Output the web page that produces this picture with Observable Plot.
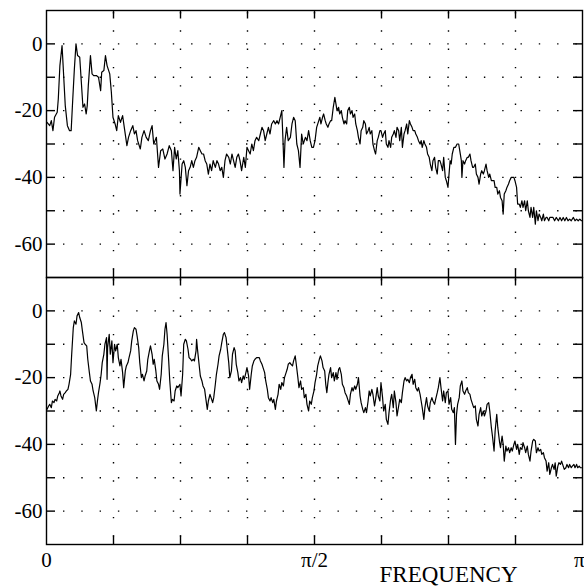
<!DOCTYPE html>
<html>
<head>
<meta charset="utf-8">
<script src="https://cdn.jsdelivr.net/npm/d3@7"></script>
<script src="https://cdn.jsdelivr.net/npm/@observablehq/plot@0.6"></script>
<style>
  html, body { margin: 0; padding: 0; background: #fff; }
  #chart { width: 584px; height: 588px; overflow: hidden; }
</style>
</head>
<body>
<div id="chart"></div>
<script>
// Frequency in units of pi (0 .. 1), magnitude in dB
const topSpectrum = [
[0.001,-23.5],[0.006,-24.5],[0.009,-23],[0.012,-26],[0.015,-22],[0.020,-20.5],[0.022,-16.5],[0.025,-6.5],[0.029,-0.5],[0.032,-9.5],[0.035,-18.5],[0.039,-24.5],[0.043,-26],[0.046,-26],[0.049,-16.5],[0.052,-7.5],[0.055,0],[0.058,-3.5],[0.062,-4],[0.065,-11.5],[0.068,-19],[0.071,-18],[0.074,-21],[0.076,-18.5],[0.078,-12.5],[0.082,-3.5],[0.085,-9],[0.088,-9.5],[0.093,-9.5],[0.097,-10],[0.101,-14],[0.103,-8.5],[0.107,-8],[0.110,-3.5],[0.113,-6.5],[0.118,-9],[0.121,-14.5],[0.124,-22],[0.128,-24],[0.131,-26],[0.134,-21.5],[0.138,-23.5],[0.142,-21.5],[0.146,-26],[0.150,-30.5],[0.153,-28],[0.157,-26],[0.161,-24.5],[0.164,-27],[0.167,-26],[0.170,-29],[0.175,-31.5],[0.178,-28],[0.182,-26],[0.186,-28],[0.190,-29],[0.194,-26],[0.197,-24.5],[0.200,-30],[0.205,-28],[0.209,-37],[0.213,-32],[0.217,-31.5],[0.221,-34.5],[0.225,-33],[0.229,-30.5],[0.233,-32],[0.236,-38],[0.239,-31],[0.242,-34.5],[0.245,-32],[0.248,-38],[0.249,-45],
[0.253,-36],[0.256,-35],[0.259,-37],[0.262,-42.5],[0.265,-38],[0.268,-37],[0.271,-35],[0.274,-37],[0.277,-35],[0.280,-34],[0.284,-31],[0.287,-32],[0.290,-33],[0.293,-33],[0.296,-35],[0.299,-36],[0.302,-39],[0.305,-36],[0.308,-38],[0.311,-35],[0.315,-37],[0.318,-35],[0.321,-36],[0.324,-38],[0.327,-37],[0.330,-40],[0.333,-35],[0.336,-33],[0.340,-34],[0.343,-36],[0.346,-33],[0.349,-35],[0.352,-37],[0.355,-34],[0.358,-33],[0.361,-35],[0.364,-38],[0.368,-34],[0.371,-37],[0.374,-31],[0.377,-32],[0.380,-33],[0.383,-30],[0.386,-32],[0.389,-29],[0.392,-28],[0.396,-29],[0.399,-27],[0.402,-25],[0.405,-26],[0.408,-29],[0.411,-27],[0.414,-25],[0.417,-27],[0.420,-24],[0.424,-23],[0.427,-24],[0.430,-23],[0.433,-24],[0.436,-22],[0.439,-20],[0.441,-28],[0.443,-37],[0.445,-29],[0.448,-25],[0.451,-29],[0.455,-28],[0.458,-24],[0.461,-22],[0.464,-23],[0.467,-30],[0.470,-32],[0.473,-37],[0.476,-27],[0.479,-30],[0.483,-28],[0.486,-29],[0.489,-26],[0.492,-29],[0.495,-31],[0.498,-31],[0.501,-29],
[0.504,-25],[0.508,-23],[0.510,-22],[0.512,-24],[0.515,-22],[0.517,-21],[0.520,-23],[0.522,-24],[0.525,-25],[0.527,-24],[0.530,-23],[0.532,-23],[0.535,-19],[0.538,-16],[0.540,-18],[0.542,-20],[0.545,-19],[0.547,-21],[0.550,-20],[0.552,-22],[0.555,-24],[0.557,-23],[0.560,-24],[0.562,-20],[0.565,-19],[0.567,-21],[0.570,-20],[0.572,-22],[0.575,-21],[0.577,-24],[0.580,-26],[0.582,-28],[0.585,-30],[0.587,-26],[0.590,-25],[0.592,-23],[0.595,-24],[0.597,-27],[0.600,-26],[0.602,-25],[0.604,-27],[0.607,-26],[0.609,-30],[0.612,-32],[0.614,-33],[0.617,-29],[0.619,-28],[0.622,-26],[0.624,-26],[0.627,-28],[0.629,-27],[0.632,-26],[0.634,-30],[0.637,-31],[0.639,-29],[0.642,-31],[0.644,-28],[0.647,-27],[0.649,-26],[0.652,-28],[0.654,-25],[0.657,-26],[0.659,-29],[0.662,-25],[0.664,-31],[0.667,-27],[0.669,-26],[0.672,-24],[0.674,-27],[0.677,-23],[0.679,-24],[0.682,-25],[0.684,-26],[0.687,-26],[0.689,-27],[0.692,-28],[0.694,-29],[0.697,-30],[0.699,-29],[0.701,-31],[0.704,-29],[0.706,-30],[0.709,-31],[0.711,-33],[0.714,-34],[0.716,-36],[0.719,-38],[0.721,-35],[0.724,-34],[0.726,-37],[0.729,-39],[0.731,-35],[0.734,-35],[0.736,-36],[0.739,-38],[0.741,-34],[0.744,-40],[0.746,-41],[0.749,-43],
[0.753,-35],[0.755,-36],[0.757,-33],[0.760,-31],[0.763,-31],[0.766,-30],[0.769,-30],[0.771,-32],[0.774,-35],[0.775,-40],[0.777,-35],[0.780,-36],[0.782,-35],[0.785,-34],[0.787,-34],[0.790,-33],[0.792,-35],[0.795,-37],[0.797,-37],[0.800,-36],[0.802,-39],[0.805,-40],[0.807,-42],[0.810,-39],[0.812,-38],[0.815,-39],[0.817,-38],[0.820,-36],[0.822,-38],[0.825,-40],[0.827,-39],[0.830,-41],[0.832,-41],[0.835,-41],[0.837,-43],[0.840,-43],[0.842,-45],[0.845,-44],[0.847,-46],[0.850,-47],[0.852,-51],[0.854,-45],[0.857,-44],[0.859,-43],[0.862,-42],[0.864,-41],[0.867,-40],[0.869,-40],[0.872,-40],[0.874,-41],[0.877,-43],[0.879,-48],[0.882,-48],[0.884,-49],[0.887,-47],[0.889,-49],[0.892,-47],[0.894,-50],[0.897,-47],[0.899,-50],[0.902,-52],[0.904,-49],[0.907,-52],[0.909,-49],[0.912,-54],[0.914,-50],[0.917,-53],[0.919,-51],[0.922,-52],[0.924,-53],[0.927,-51],[0.929,-53],[0.932,-52],[0.934,-52],[0.937,-53],[0.939,-52],[0.942,-52],[0.945,-52],[0.948,-53],[0.951,-52],[0.955,-53],[0.958,-52],[0.961,-53],[0.964,-52],[0.967,-53],[0.970,-52],[0.973,-53],[0.976,-52.5],[0.979,-53],[0.983,-52],[0.986,-53],[0.989,-52.5],[0.992,-53],[0.995,-52.5],[0.998,-53],[1.000,-53]
];

const bottomSpectrum = [
[0.001,-29.5],[0.004,-28.5],[0.006,-28],[0.009,-29],[0.011,-27],[0.014,-27.5],[0.016,-26.5],[0.019,-27],[0.021,-25.5],[0.024,-24.5],[0.025,-24],[0.027,-25.5],[0.030,-26.5],[0.032,-25],[0.035,-24.5],[0.037,-24],[0.040,-23.5],[0.042,-22],[0.045,-19],[0.047,-13],[0.050,-5],[0.052,-3],[0.055,-4],[0.057,-1.5],[0.060,-0.5],[0.062,-2],[0.065,-3.5],[0.067,-6],[0.070,-9.5],[0.072,-10],[0.075,-10.5],[0.077,-14.5],[0.080,-18.5],[0.082,-21],[0.085,-22],[0.087,-24],[0.090,-26],[0.093,-30],[0.095,-27],[0.097,-24.5],[0.100,-21.5],[0.102,-19],[0.104,-15.5],[0.107,-13],[0.109,-10],[0.112,-8],[0.113,-20.5],[0.114,-11],[0.117,-7],[0.119,-13],[0.122,-9],[0.124,-15.5],[0.127,-10],[0.129,-12],[0.132,-10],[0.134,-14],[0.137,-16.5],[0.139,-14.5],[0.142,-18.5],[0.144,-23],[0.147,-18],[0.149,-16.5],[0.152,-15.5],[0.154,-14],[0.157,-12],[0.159,-9],[0.162,-6],[0.164,-5],[0.167,-5.5],[0.169,-7.5],[0.172,-11],[0.174,-15.5],[0.177,-20],[0.179,-19],[0.182,-21],[0.184,-19.5],[0.187,-18],[0.189,-14.5],[0.192,-12],[0.194,-10.5],[0.197,-13],[0.199,-16],[0.201,-14.5],[0.204,-18],[0.206,-21],[0.209,-22],[0.211,-23.5],[0.214,-19],[0.216,-13.5],[0.219,-10],[0.221,-5.5],[0.223,-3.5],[0.225,-7],[0.228,-15],[0.230,-21],[0.233,-27.5],[0.235,-26.5],[0.238,-27],[0.240,-24],[0.243,-22.5],[0.245,-23],
[0.249,-22],[0.251,-25.5],[0.254,-19],[0.256,-10],[0.259,-8.5],[0.261,-9],[0.264,-11.5],[0.266,-14],[0.269,-14.5],[0.271,-15],[0.274,-14.5],[0.276,-15],[0.279,-12],[0.280,-8.5],[0.282,-12],[0.285,-16.5],[0.287,-19.5],[0.290,-21],[0.292,-22.5],[0.295,-23.5],[0.297,-26],[0.300,-29.5],[0.302,-27],[0.305,-25],[0.307,-26],[0.310,-27.5],[0.312,-26],[0.315,-22],[0.317,-19],[0.320,-16],[0.322,-13.5],[0.325,-11.5],[0.327,-9.5],[0.330,-7],[0.332,-6.5],[0.335,-8],[0.337,-11],[0.340,-15.5],[0.342,-20],[0.345,-18],[0.347,-13],[0.350,-11],[0.352,-12],[0.354,-16],[0.357,-18.5],[0.359,-21],[0.362,-20],[0.364,-21.5],[0.367,-19.5],[0.369,-20.5],[0.372,-18.5],[0.374,-17],[0.377,-19.5],[0.379,-23.5],[0.382,-19],[0.384,-16.5],[0.387,-15],[0.389,-14.5],[0.392,-14],[0.394,-14],[0.397,-14],[0.399,-15],[0.402,-16],[0.404,-17],[0.407,-18.5],[0.409,-21],[0.412,-23.5],[0.414,-26],[0.417,-27],[0.419,-26],[0.422,-27.5],[0.424,-26.5],[0.427,-29.5],[0.429,-27],[0.432,-25],[0.434,-22],[0.437,-23.5],[0.439,-21.5],[0.442,-22.5],[0.444,-20],[0.447,-18.5],[0.449,-17.5],[0.451,-16],[0.454,-15.5],[0.456,-16],[0.459,-16.5],[0.461,-15],[0.464,-13.5],[0.466,-16],[0.469,-20],[0.471,-23],[0.474,-21],[0.476,-23.5],[0.479,-23],[0.481,-26],[0.484,-25],[0.486,-28],[0.489,-30],[0.491,-27],[0.494,-28],[0.496,-26],
[0.499,-24],[0.501,-21.5],[0.504,-19],[0.506,-16.5],[0.509,-14.5],[0.511,-13.5],[0.514,-15],[0.516,-17],[0.519,-18],[0.521,-22],[0.523,-24.5],[0.525,-21.5],[0.527,-19],[0.530,-17],[0.532,-20],[0.535,-18.5],[0.537,-21],[0.540,-18.5],[0.542,-20.5],[0.545,-17.5],[0.547,-17],[0.550,-19],[0.552,-22],[0.555,-23],[0.557,-24.5],[0.560,-25.5],[0.562,-26.5],[0.565,-28],[0.567,-25],[0.570,-23],[0.572,-24],[0.575,-22.5],[0.577,-23.5],[0.580,-22],[0.582,-20],[0.585,-25.5],[0.587,-27.5],[0.590,-29.5],[0.592,-30.5],[0.595,-29],[0.597,-30.5],[0.600,-27],[0.602,-24],[0.604,-25.5],[0.607,-23.5],[0.609,-25],[0.612,-28.5],[0.614,-26.5],[0.617,-23],[0.619,-25.5],[0.622,-27],[0.624,-21.5],[0.627,-26],[0.629,-30],[0.632,-28],[0.634,-32.5],[0.637,-34],[0.639,-30.5],[0.642,-26.5],[0.644,-25],[0.647,-29],[0.649,-24],[0.652,-27.5],[0.654,-31.5],[0.657,-28.5],[0.659,-26.5],[0.662,-27.5],[0.664,-24.5],[0.667,-21],[0.669,-20],[0.672,-21],[0.674,-20.5],[0.677,-21.5],[0.679,-20],[0.682,-19],[0.684,-22],[0.687,-20.5],[0.689,-23],[0.692,-24],[0.694,-23],[0.697,-25],[0.699,-27],[0.701,-29],[0.704,-32.5],[0.706,-29],[0.709,-26],[0.711,-28.5],[0.714,-30],[0.716,-27.5],[0.719,-26],[0.721,-27],[0.724,-28],[0.726,-26.5],[0.729,-24.5],[0.731,-23],[0.734,-20],[0.736,-23],[0.739,-27],[0.741,-24],[0.744,-27.5],[0.746,-24.5],
[0.749,-24],[0.751,-28],[0.754,-26],[0.756,-29.5],[0.759,-30.5],[0.761,-29],[0.763,-40],[0.765,-31],[0.767,-28],[0.770,-26],[0.772,-22.5],[0.775,-21],[0.777,-24],[0.780,-25],[0.782,-24],[0.785,-23],[0.787,-24.5],[0.790,-25],[0.792,-26.5],[0.795,-28],[0.797,-29],[0.800,-28.5],[0.802,-32.5],[0.805,-34.5],[0.807,-31],[0.810,-29],[0.812,-31.5],[0.815,-30],[0.817,-31.5],[0.820,-30],[0.822,-28],[0.825,-27.5],[0.827,-30],[0.830,-35],[0.832,-37.5],[0.835,-42],[0.837,-36],[0.840,-31],[0.842,-35],[0.845,-39],[0.847,-41],[0.850,-37.5],[0.852,-40],[0.854,-45],[0.857,-40.5],[0.859,-42],[0.862,-41],[0.864,-42.5],[0.867,-41],[0.869,-42],[0.872,-40],[0.874,-39],[0.877,-41.5],[0.879,-40],[0.882,-43],[0.884,-41],[0.887,-41.5],[0.889,-39.5],[0.892,-41],[0.894,-42.5],[0.897,-40.5],[0.899,-43],[0.902,-45],[0.904,-42],[0.907,-39],[0.909,-38.5],[0.912,-39],[0.914,-42.5],[0.917,-41],[0.919,-42],[0.922,-41.5],[0.924,-43],[0.927,-42.5],[0.929,-44],[0.932,-45],[0.934,-48],[0.937,-45.5],[0.939,-49],[0.942,-47],[0.944,-46],[0.947,-47.5],[0.949,-45.5],[0.951,-49.5],[0.954,-46.5],[0.956,-45.5],[0.959,-46],[0.961,-45],[0.964,-46.5],[0.966,-47.5],[0.969,-47],[0.971,-46],[0.974,-47],[0.976,-46],[0.979,-47],[0.981,-46.5],[0.984,-46],[0.986,-47],[0.989,-46],[0.991,-47],[0.994,-46.5],[0.996,-47],[0.999,-47],[1.000,-47]
];

const panels = ["top", "bottom"];
const xTickValues = [0, 0.5, 1];
const xTickLabels = ["0", "π/2", "π"];
const xMinorTicks = [0.125, 0.25, 0.375, 0.5, 0.625, 0.75, 0.875];
const yTickValues = [0, -20, -40, -60];
const yMinorTicks = [0, -10, -20, -30, -40, -50, -60];
const xLabel = "FREQUENCY";
const xLabelPosition = 0.75;

const data = [
  ...topSpectrum.map(([f, db]) => ({panel: panels[0], f, db})),
  ...bottomSpectrum.map(([f, db]) => ({panel: panels[1], f, db}))
];

const xLabelRows = xTickValues.map((f, i) => ({f, label: xTickLabels[i], panel: panels[1]}));
const innerXLabels = xLabelRows.slice(0, -1);
const edgeXLabels = xLabelRows.slice(-1);

const font = "'Liberation Serif', 'DejaVu Serif', serif";

const chart = Plot.plot({
  width: 584,
  height: 588,
  marginTop: 9,
  marginBottom: 44,
  marginLeft: 46,
  marginRight: 2,
  style: {fontFamily: font, fontSize: "21px", color: "black", background: "white", overflow: "hidden"},
  x: {domain: [0, 1], axis: null},
  y: {domain: [-70, 10]},
  fy: {domain: panels, padding: 0, axis: null, label: null},
  marks: [
    Plot.ruleY(yMinorTicks, {y: d => d, stroke: "black", strokeWidth: 1.4, strokeDasharray: "1.4,16.9", strokeDashoffset: -17}),
    Plot.ruleX(xMinorTicks, {x: d => d, stroke: "black", strokeWidth: 1.4, strokeDasharray: "1.4,16.9", strokeDashoffset: -2}),
    Plot.tickX(xMinorTicks, {x: d => d, insetBottom: 258.5, stroke: "black", strokeWidth: 1.4}),
    Plot.tickX(xMinorTicks, {x: d => d, insetTop: 258.5, stroke: "black", strokeWidth: 1.4}),
    Plot.tickY(yMinorTicks, {y: d => d, insetRight: 527, stroke: "black", strokeWidth: 1.4}),
    Plot.tickY(yMinorTicks, {y: d => d, insetLeft: 527, stroke: "black", strokeWidth: 1.4}),
    Plot.frame({stroke: "black", strokeWidth: 1.4}),
    Plot.line(data, {x: "f", y: "db", fy: "panel", stroke: "black", strokeWidth: 1.2}),
    Plot.axisY({ticks: yTickValues, tickSize: 0, tickPadding: 4, tickFormat: d => String(d), label: null, fontSize: 21}),
    Plot.text(innerXLabels, {x: "f", fy: "panel", text: "label", frameAnchor: "bottom", lineAnchor: "top", dy: 8, fontSize: 21}),
    Plot.text(edgeXLabels, {x: "f", fy: "panel", text: "label", frameAnchor: "bottom", lineAnchor: "top", textAnchor: "end", dy: 8, dx: 2, fontSize: 21}),
    Plot.text([{f: xLabelPosition, panel: panels[1], label: xLabel}], {x: "f", fy: "panel", text: "label", frameAnchor: "bottom", dy: 30, fontSize: 23, lineAnchor: "middle"})
  ]
});

document.getElementById("chart").appendChild(chart);
</script>
</body>
</html>
